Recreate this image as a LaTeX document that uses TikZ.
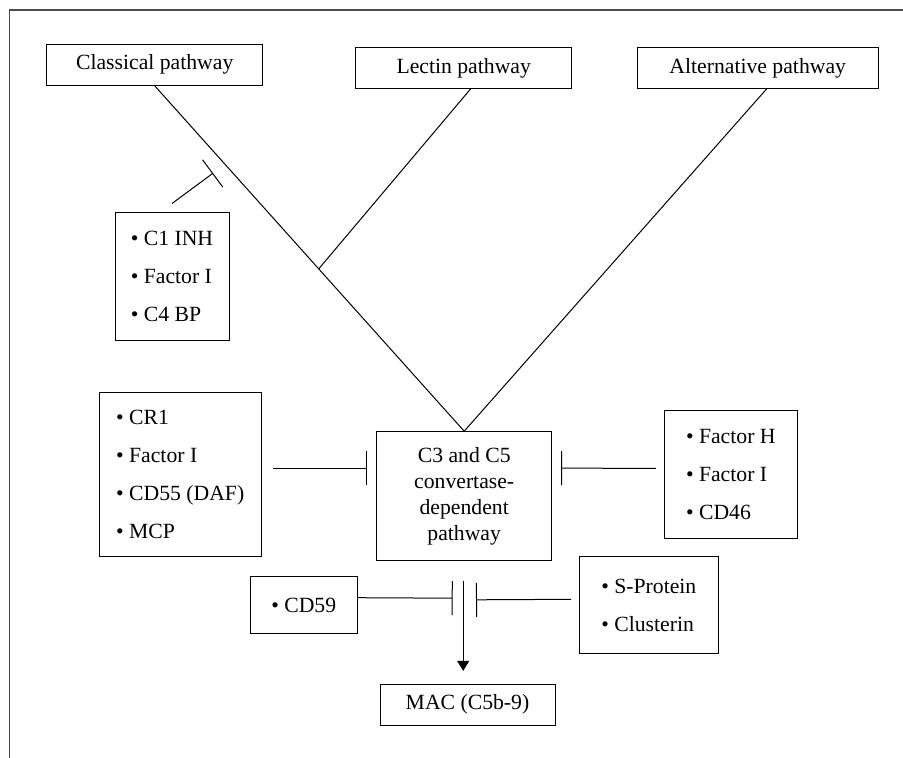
\documentclass[tikz,border=0pt]{standalone}
\usepackage{fontspec}
\setmainfont{Liberation Serif}
\usetikzlibrary{arrows.meta,calc}
\tikzset{
	box/.style={draw, line width=1pt, inner sep=2pt, font=\fontsize{21.7}{26}\selectfont},
	listbox/.style={box, align=left, font=\fontsize{21.7}{38}\selectfont},
	link/.style={line width=1pt},
	inh/.style={link, -{Bar[width=34pt]}},
}
\begin{document}
\begin{tikzpicture}[x=1pt,y=-1pt]
		\useasboundingbox (0,0) rectangle (903,758);
		\draw[line width=1.3pt, black!70] (9.5,758) -- (9.5,10) -- (903,10);
		% pathways
		\node[box, minimum width=216pt, minimum height=41pt] (classical) at (154.7,64.8) {Classical pathway\hspace{12pt}};
		\node[box, minimum width=216pt, minimum height=40.6pt] (lectin) at (463.7,68) {Lectin pathway};
		\node[box, minimum width=241.3pt, minimum height=40.6pt] (alternative) at (757.7,68) {Alternative pathway\hspace{10pt}};
		\node[box, align=center, minimum width=175pt, minimum height=129pt] (c3c5) at (464.2,496.2) {C3 and C5\\convertase-\\dependent\\pathway};
		\node[box, minimum width=175pt, minimum height=40.7pt] (mac) at (467.5,704.7) {MAC (C5b-9)};
		% regulators
		\node[listbox, minimum width=114pt, minimum height=128pt] (cinh) at (172,276) {• C1 INH\\• Factor I\\• C4 BP};
		\node[listbox, minimum width=162.3pt, minimum height=163.7pt] (crbox) at (180.2,474.2) {• CR1\\• Factor I\\• CD55 (DAF)\\• MCP};
		\node[listbox, minimum width=133pt, minimum height=128.3pt] (fhbox) at (730.8,474.8) {• Factor H\\• Factor I\\• CD46};
		\node[listbox, minimum width=107.3pt, minimum height=57.3pt] (cd59) at (303.7,605.3) {• CD59};
		\node[listbox, minimum width=139pt, minimum height=97.3pt] (sprot) at (648.8,605.3) {• S-Protein\\• Clusterin};
		% activation
		\coordinate (join) at ($(classical.south)!0.53!(c3c5.north)$);
		\draw[link] (classical.south) -- (c3c5.north);
		\draw[link] ([xshift=7pt]lectin.south) -- (join);
		\draw[link] ([xshift=9pt]alternative.south) -- (c3c5.north);
		% inhibition
		\coordinate (cpblock) at ($(classical.south)!0.25!(c3c5.north)+(-19,1)$);
		\draw[inh] ([yshift=8pt]cinh.north) -- (cpblock);
		\draw[inh] ([xshift=11pt,yshift=6pt]crbox.east) -- ([xshift=-9pt,yshift=28pt]c3c5.west);
		\draw[inh] ([xshift=-8pt,yshift=6.5pt]fhbox.west) -- ([xshift=9pt,yshift=28pt]c3c5.east);
		\draw[inh] ([yshift=7.6pt]cd59.east) -- ([xshift=-11.5pt,yshift=-37pt]c3c5.south);
		\draw[inh] ([xshift=-7.6pt,yshift=6pt]sprot.west) -- ([xshift=11.8pt,yshift=-38.6pt]c3c5.south);
		\draw[link, -{Triangle[width=12pt,length=10pt]}] ([xshift=-1pt,yshift=-20pt]c3c5.south) -- ($(c3c5.south |- mac.north)+(-1,-13)$);
	\end{tikzpicture}
\end{document}
